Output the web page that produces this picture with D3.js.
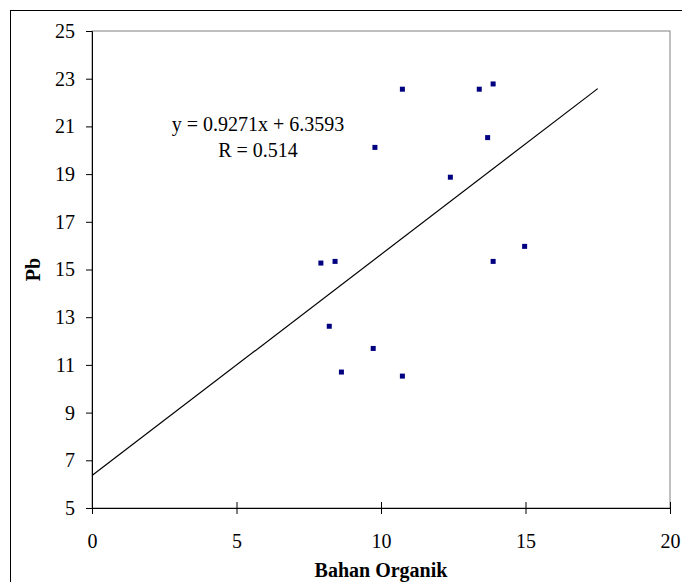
<!DOCTYPE html>
<html>
<head>
<meta charset="utf-8">
<script src="https://cdn.jsdelivr.net/npm/d3@7"></script>
<style>
  html, body { margin: 0; padding: 0; background: #fff; }
  svg { display: block; }
  text { font-family: "Liberation Serif", "Times New Roman", serif; }
</style>
</head>
<body>
<svg id="chart"></svg>
<script>
// Bahan Organik (x) vs Pb (y)
const bahanOrganik = [10.74, 13.40, 13.88, 9.79, 13.69, 12.40, 7.92, 8.41, 13.88, 14.97, 8.21, 9.73, 8.63, 10.74];
const pb           = [22.56, 22.56, 22.78, 20.12, 20.53, 18.87, 15.27, 15.34, 15.34, 15.97, 12.62, 11.69, 10.70, 10.53];

const xTicks = [0, 5, 10, 15, 20];
const yTicks = [5, 7, 9, 11, 13, 15, 17, 19, 21, 23, 25];

// trendline y = 0.9271x + 6.3593
const slope = 0.9271, intercept = 6.3593;
const trendRange = [0, 17.5];
const eqText = "y = 0.9271x + 6.3593";
const rText = "R = 0.514";

const width = 682, height = 582;
const margin = { top: 31, right: 12, bottom: 74, left: 92 };

const svg = d3.select("#chart").attr("width", width).attr("height", height);

// outer chart frame (runs off the right and bottom of the picture)
svg.append("rect")
  .attr("x", 10.5).attr("y", 10.5)
  .attr("width", 700).attr("height", 700)
  .attr("fill", "none").attr("stroke", "#000").attr("stroke-width", 1);

const x = d3.scaleLinear().domain([0, 20]).range([margin.left, width - margin.right]);
const y = d3.scaleLinear().domain([5, 25]).range([height - margin.bottom, margin.top]);

// plot area border
svg.append("rect")
  .attr("x", x(0)).attr("y", y(25))
  .attr("width", x(20) - x(0)).attr("height", y(5) - y(25))
  .attr("fill", "none").attr("stroke", "#808080").attr("stroke-width", 1);

// y axis
const yAxis = svg.append("g")
  .attr("transform", `translate(${x(0)},0)`)
  .call(d3.axisLeft(y).tickValues(yTicks).tickSize(6).tickPadding(11));
yAxis.select(".domain").attr("stroke", "#000");
yAxis.selectAll("text").style("font-size", "20px").attr("fill", "#000");

// x axis (cross ticks)
const xAxis = svg.append("g")
  .attr("transform", `translate(0,${y(5)})`)
  .call(d3.axisBottom(x).tickValues(xTicks).tickSize(6).tickPadding(34).tickSizeOuter(0));
xAxis.selectAll(".tick line").attr("y1", -6).attr("y2", 6);
xAxis.select(".domain").attr("stroke", "#000");
xAxis.selectAll("text").style("font-size", "20px").attr("fill", "#000").attr("dy", "0");

// axis titles
svg.append("text")
  .attr("x", (x(0) + x(20)) / 2).attr("y", 577)
  .attr("text-anchor", "middle")
  .style("font-size", "20px").style("font-weight", "bold")
  .text("Bahan Organik");

svg.append("text")
  .attr("transform", `translate(40,${(y(5) + y(25)) / 2}) rotate(-90)`)
  .attr("text-anchor", "middle")
  .style("font-size", "20px").style("font-weight", "bold")
  .text("Pb");

// trendline
svg.append("line")
  .attr("x1", x(trendRange[0])).attr("y1", y(slope * trendRange[0] + intercept))
  .attr("x2", x(trendRange[1])).attr("y2", y(slope * trendRange[1] + intercept))
  .attr("stroke", "#000").attr("stroke-width", 1.2);

// points
const pts = bahanOrganik.map((v, i) => ({ x: v, y: pb[i] }));
const s = 5;
svg.selectAll(".pt").data(pts).enter().append("rect")
  .attr("class", "pt")
  .attr("x", d => x(d.x) - s / 2).attr("y", d => y(d.y) - s / 2)
  .attr("width", s).attr("height", s)
  .attr("fill", "#000080");

// equation label
svg.append("text")
  .attr("x", 258).attr("y", 131)
  .attr("text-anchor", "middle")
  .style("font-size", "20px")
  .text(eqText);
svg.append("text")
  .attr("x", 258).attr("y", 157)
  .attr("text-anchor", "middle")
  .style("font-size", "20px")
  .text(rText);
</script>
</body>
</html>
